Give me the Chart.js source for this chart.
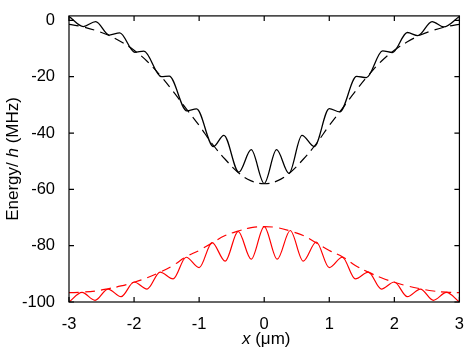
<!DOCTYPE html>
<html lang="en">
<head>
<meta charset="UTF-8">
<title>Energy vs x</title>
<style>
    body {
        margin: 0;
        background: #fff;
    }

    #chart {
        display: block;
    }
</style>
</head>
<body>
<canvas id="chart" width="469" height="352"></canvas>

<script src="https://cdn.jsdelivr.net/npm/chart.js"></script>
<script>
    // positions along x (um), shared by the red curve and both envelopes
    const gridX = [-3.0, -2.8, -2.6, -2.4, -2.2, -2.0, -1.8, -1.6, -1.4, -1.2, -1.0,
        -0.8, -0.6, -0.4, -0.2, 0.0, 0.2, 0.4, 0.6, 0.8, 1.0,
        1.2, 1.4, 1.6, 1.8, 2.0, 2.2, 2.4, 2.6, 2.8, 3.0];

    // black oscillating curve (peaks and dips)
    const blackX = [-3.0, -2.78, -2.59, -2.38, -2.22, -1.99, -1.85, -1.58, -1.46, -1.19, -1.04,
        -0.78, -0.62, -0.39, -0.2, 0.0, 0.19, 0.38, 0.58, 0.77, 1.0,
        1.16, 1.42, 1.57, 1.82, 1.97, 2.2, 2.36, 2.58, 2.76, 3.0];
    const blackY = [1.4, -2.2, -0.4, -5.2, -4.4, -11.3, -10.9, -20.0, -19.8, -32.1, -31.4,
        -44.8, -40.8, -53.9, -45.9, -57.9, -45.9, -54.3, -40.8, -44.8, -31.3,
        -32.5, -19.9, -20.3, -10.8, -11.4, -4.3, -5.4, -0.4, -2.3, 1.4];

    // black dashed envelope
    const blackEnv = [-1.4, -2.2, -3.5, -5.2, -7.6, -10.6, -14.5, -19.5, -25.2, -31.3, -37.3,
        -43.8, -49.3, -54.0, -57.0, -58.0, -57.0, -54.0, -49.3, -43.8, -37.3,
        -31.3, -25.2, -19.5, -14.5, -10.6, -7.6, -5.2, -3.5, -2.2, -1.4];

    // red oscillating curve
    const redY = [-100.0, -96.6, -99.4, -95.4, -98.1, -92.9, -95.4, -89.4, -91.8, -84.1, -87.8,
        -78.9, -85.5, -74.9, -84.8, -73.2, -84.8, -74.6, -85.5, -78.7, -87.8,
        -84.1, -91.8, -89.4, -95.4, -92.9, -98.1, -95.4, -99.4, -96.6, -100.0];

    // red dashed envelope
    const redEnv = [-96.7, -96.5, -96.1, -95.3, -94.3, -93.0, -91.4, -89.4, -87.0, -83.9, -81.7,
        -79.0, -76.4, -74.8, -73.6, -73.2, -73.6, -74.8, -76.4, -79.0, -81.7,
        -83.9, -87.0, -89.4, -91.4, -93.0, -94.3, -95.3, -96.1, -96.5, -96.7];

    const xTicks = [-3, -2, -1, 0, 1, 2, 3];
    const yTicks = [-100, -80, -60, -40, -20, 0];

    const FONT = '"Liberation Sans", Arial, Helvetica, sans-serif';

    const toPoints = (xs, ys) => xs.map((x, i) => ({ x: x, y: ys[i] }));

    // box with inward ticks on all four sides
    const framePlugin = {
        id: 'frame',
        afterDatasetsDraw(chart) {
            const { ctx, chartArea: a, scales } = chart;
            ctx.save();
            ctx.strokeStyle = '#000';
            ctx.lineWidth = 1.2;
            ctx.strokeRect(a.left, a.top, a.right - a.left, a.bottom - a.top);
            ctx.beginPath();
            xTicks.forEach(v => {
                const px = scales.x.getPixelForValue(v);
                ctx.moveTo(px, a.bottom);
                ctx.lineTo(px, a.bottom - 5);
                ctx.moveTo(px, a.top);
                ctx.lineTo(px, a.top + 5);
            });
            yTicks.forEach(v => {
                const py = scales.y.getPixelForValue(v);
                ctx.moveTo(a.left, py);
                ctx.lineTo(a.left + 5, py);
                ctx.moveTo(a.right, py);
                ctx.lineTo(a.right - 5, py);
            });
            ctx.stroke();
            ctx.restore();
        }
    };

    function drawParts(ctx, parts, cx, cy) {
        let total = 0;
        parts.forEach(p => {
            ctx.font = p[1] + ' 17px ' + FONT;
            total += ctx.measureText(p[0]).width;
        });
        let pos = cx - total / 2;
        parts.forEach(p => {
            ctx.font = p[1] + ' 17px ' + FONT;
            ctx.fillText(p[0], pos, cy);
            pos += ctx.measureText(p[0]).width;
        });
    }

    // axis titles with italic symbols
    const titlePlugin = {
        id: 'titles',
        afterDraw(chart) {
            const { ctx, chartArea: a } = chart;
            ctx.save();
            ctx.fillStyle = '#000';
            ctx.textAlign = 'left';
            ctx.textBaseline = 'middle';
            drawParts(ctx, [['x', 'italic'], [' (\u03bcm)', 'normal']], (a.left + a.right) / 2 + 2, 339);
            ctx.translate(13, (a.top + a.bottom) / 2);
            ctx.rotate(-Math.PI / 2);
            drawParts(ctx, [['Energy/ ', 'normal'], ['h', 'italic'], [' (MHz)', 'normal']], 0, 0);
            ctx.restore();
        }
    };

    new Chart(document.getElementById('chart'), {
        type: 'line',
        data: {
            datasets: [{
                data: toPoints(blackX, blackY),
                borderColor: '#000',
                borderWidth: 1.3,
                cubicInterpolationMode: 'monotone'
            }, {
                data: toPoints(gridX, redY),
                borderColor: '#ff0000',
                borderWidth: 1.2,
                cubicInterpolationMode: 'monotone'
            }, {
                data: toPoints(gridX, blackEnv),
                borderColor: '#000',
                borderWidth: 1.2,
                borderDash: [10, 6],
                tension: 0.4
            }, {
                data: toPoints(gridX, redEnv),
                borderColor: '#ff0000',
                borderWidth: 1.2,
                borderDash: [10, 6],
                tension: 0.4
            }]
        },
        options: {
            responsive: false,
            animation: false,
            layout: { padding: { top: 4, right: 5, left: 0, bottom: 0 } },
            elements: { point: { radius: 0 } },
            plugins: {
                legend: { display: false },
                tooltip: { enabled: false }
            },
            scales: {
                x: {
                    type: 'linear',
                    min: -3,
                    max: 3,
                    grid: { display: false },
                    border: { display: false },
                    afterBuildTicks: s => { s.ticks = xTicks.map(v => ({ value: v })); },
                    afterFit: s => { s.height = 50; },
                    ticks: {
                        color: '#000',
                        padding: 5,
                        maxRotation: 0,
                        font: { family: FONT, size: 16.5 }
                    }
                },
                y: {
                    min: -100,
                    max: 1.6,
                    grid: { display: false },
                    border: { display: false },
                    afterBuildTicks: s => { s.ticks = yTicks.map(v => ({ value: v })); },
                    afterFit: s => { s.width = 69; },
                    ticks: {
                        color: '#000',
                        padding: 6,
                        font: { family: FONT, size: 16.5 }
                    }
                }
            }
        },
        plugins: [framePlugin, titlePlugin]
    });
</script>
</body>
</html>
